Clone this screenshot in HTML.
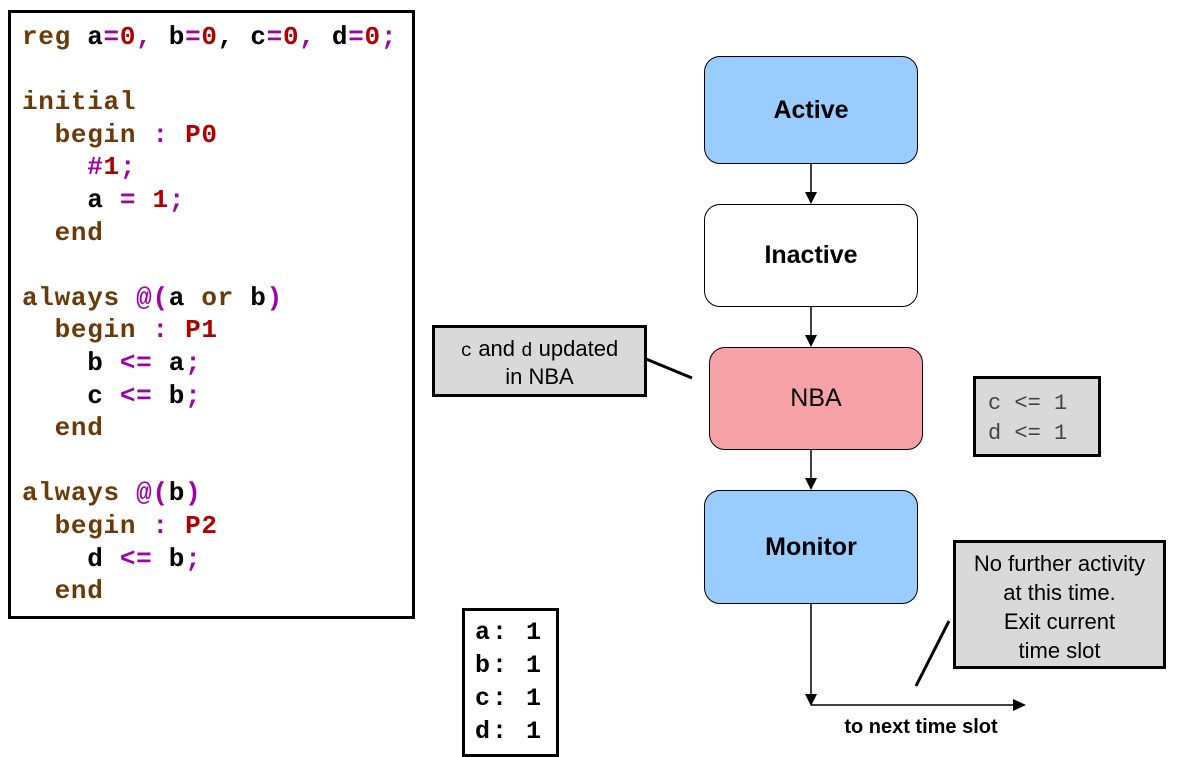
<!DOCTYPE html>
<html><head><meta charset="utf-8"><style>
body{margin:0;width:1180px;height:757px;background:#fff;position:relative;overflow:hidden;font-family:"Liberation Sans",sans-serif}
.abs{position:absolute;box-sizing:border-box}
pre{margin:0;font-family:"Liberation Mono",monospace;font-weight:bold;font-size:26px;line-height:32.6px;letter-spacing:0.7px}
.k{color:#6b3a08}.m{color:#a000a8}.r{color:#b00000}.b{color:#000}
.node{position:absolute;box-sizing:border-box;border:1.5px solid #000;border-radius:16px;display:flex;align-items:center;justify-content:center;font-size:25px;color:#000}
.note{position:absolute;box-sizing:border-box;border:3px solid #000;background:#d9d9d9;text-align:center;color:#000}
</style></head><body>
<div class="abs" style="left:8px;top:10px;width:407px;height:609px;border:3px solid #000"></div>
<pre class="abs" style="left:22px;top:21px"><span class="k">reg</span> <span class="b">a</span><span class="m">=</span><span class="r">0</span><span class="m">,</span> <span class="b">b</span><span class="m">=</span><span class="r">0</span>, <span class="b">c</span><span class="m">=</span><span class="r">0</span><span class="m">,</span> <span class="b">d</span><span class="m">=</span><span class="r">0</span><span class="m">;</span>

<span class="k">initial</span>
  <span class="k">begin</span> <span class="m">:</span> <span class="r">P0</span>
    <span class="m">#</span><span class="r">1</span><span class="m">;</span>
    <span class="b">a</span> <span class="m">=</span> <span class="r">1</span><span class="m">;</span>
  <span class="k">end</span>

<span class="k">always</span> <span class="m">@(</span><span class="b">a</span> <span class="k">or</span> <span class="b">b</span><span class="m">)</span>
  <span class="k">begin</span> <span class="m">:</span> <span class="r">P1</span>
    <span class="b">b</span> <span class="m">&lt;=</span> <span class="b">a</span><span class="m">;</span>
    <span class="b">c</span> <span class="m">&lt;=</span> <span class="b">b</span><span class="m">;</span>
  <span class="k">end</span>

<span class="k">always</span> <span class="m">@(</span><span class="b">b</span><span class="m">)</span>
  <span class="k">begin</span> <span class="m">:</span> <span class="r">P2</span>
    <span class="b">d</span> <span class="m">&lt;=</span> <span class="b">b</span><span class="m">;</span>
  <span class="k">end</span></pre>

<div class="node" style="left:704px;top:56px;width:214px;height:108px;background:#99ccff;font-weight:bold">Active</div>
<div class="node" style="left:704px;top:204px;width:214px;height:103px;background:#fff;font-weight:bold">Inactive</div>
<div class="node" style="left:709px;top:347px;width:214px;height:103px;background:#f6a2a6">NBA</div>
<div class="node" style="left:704px;top:490px;width:214px;height:114px;background:#99ccff;font-weight:bold">Monitor</div>

<svg class="abs" style="left:0;top:0" width="1180" height="757">
<g stroke="#000" stroke-width="1.5" fill="none">
<line x1="811" y1="164" x2="811" y2="192"/>
<line x1="811" y1="307" x2="811" y2="335"/>
<line x1="811" y1="450" x2="811" y2="478"/>
<line x1="811" y1="604" x2="811" y2="695"/>
<line x1="811" y1="705" x2="1014" y2="705"/>
<line x1="646" y1="359" x2="692" y2="378" stroke-width="3"/>
<line x1="916" y1="686" x2="949" y2="621" stroke-width="3"/>
</g>
<g fill="#000">
<polygon points="805,192 817,192 811,204"/>
<polygon points="805,335 817,335 811,347"/>
<polygon points="805,478 817,478 811,490"/>
<polygon points="805,694 817,694 811,706"/>
<polygon points="1013,699 1013,711 1026,705"/>
</g>
<text x="921" y="733" text-anchor="middle" font-family="Liberation Sans" font-weight="bold" font-size="20">to next time slot</text>
</svg>

<div class="note" style="left:432px;top:325px;width:215px;height:72px;font-size:22px;line-height:26px;padding-top:8px"><span style="font-family:'Liberation Mono',monospace;font-size:19px">c</span> and <span style="font-family:'Liberation Mono',monospace;font-size:19px">d</span> updated<br>in NBA</div>
<div class="note" style="left:973px;top:376px;width:128px;height:81px;text-align:left;padding:10px 0 0 12px;font-family:'Liberation Mono',monospace;font-size:22px;line-height:30px;color:#444">c &lt;= 1<br>d &lt;= 1</div>
<div class="note" style="left:953px;top:540px;width:213px;height:129px;font-size:22px;line-height:29px;padding-top:6px">No further activity<br>at this time.<br>Exit current<br>time slot</div>

<div class="abs" style="left:462px;top:608px;width:97px;height:149px;border:3px solid #000"></div>
<pre class="abs" style="left:475px;top:616px;font-size:25px;line-height:33px;letter-spacing:2px">a: 1
b: 1
c: 1
d: 1</pre>
</body></html>
